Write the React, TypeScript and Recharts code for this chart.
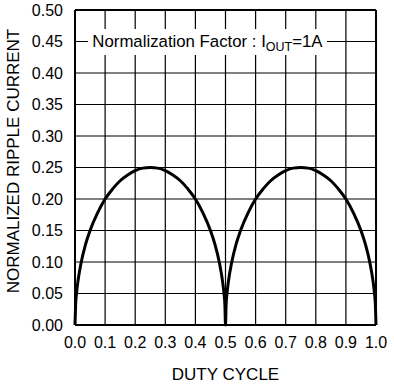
import React from 'react';
import {
  LineChart, Line, XAxis, YAxis, CartesianGrid, ReferenceArea, ReferenceLine, Label,
} from 'recharts';

const dutyCycle = [
  0, 0.002, 0.005, 0.01, 0.02, 0.035, 0.05, 0.075, 0.1, 0.125, 0.15, 0.175, 0.2, 0.225, 0.25,
  0.275, 0.3, 0.325, 0.35, 0.375, 0.4, 0.425, 0.45, 0.465, 0.48, 0.49, 0.495, 0.498, 0.5,
  0.502, 0.505, 0.51, 0.52, 0.535, 0.55, 0.575, 0.6, 0.625, 0.65, 0.675, 0.7, 0.725, 0.75,
  0.775, 0.8, 0.825, 0.85, 0.875, 0.9, 0.925, 0.95, 0.965, 0.98, 0.99, 0.995, 0.998, 1.0,
];
const rippleCurrent = [
  0, 0.032, 0.05, 0.07, 0.098, 0.128, 0.15, 0.178, 0.2, 0.216, 0.229, 0.238, 0.245, 0.249, 0.25,
  0.249, 0.245, 0.238, 0.229, 0.216, 0.2, 0.178, 0.15, 0.128, 0.098, 0.07, 0.05, 0.032, 0,
  0.032, 0.05, 0.07, 0.098, 0.128, 0.15, 0.178, 0.2, 0.216, 0.229, 0.238, 0.245, 0.249, 0.25,
  0.249, 0.245, 0.238, 0.229, 0.216, 0.2, 0.178, 0.15, 0.128, 0.098, 0.07, 0.05, 0.032, 0,
];
const xTicks = [0, 0.1, 0.2, 0.3, 0.4, 0.5, 0.6, 0.7, 0.8, 0.9, 1.0];
const yTicks = [0, 0.05, 0.1, 0.15, 0.2, 0.25, 0.3, 0.35, 0.4, 0.45, 0.5];

const data = dutyCycle.map((d, i) => ({ d, r: rippleCurrent[i] }));

const font = '"Liberation Sans", Arial, sans-serif';

const NoteLabel = (props: any) => {
  const vb = props.viewBox;
  if (!vb) return null;
  const cx = vb.x + vb.width / 2;
  const cy = vb.y + vb.height / 2;
  return (
    <text x={cx} y={cy + 5} textAnchor="middle" fontSize={16.8} fontFamily={font} fill="#000">
      Normalization Factor : I
      <tspan dy={4} fontSize={12.5}>OUT</tspan>
      <tspan dy={-4}>=1A</tspan>
    </text>
  );
};

const YLabel = () => (
  <text
    x={13}
    y={161}
    transform="rotate(-90, 13, 161)"
    textAnchor="middle"
    dominantBaseline="central"
    fontSize={17}
    fontFamily={font}
    fill="#000"
  >
    NORMALIZED RIPPLE CURRENT
  </text>
);

export default function App() {
  return (
    <div style={{ position: 'absolute', left: 0, top: 0, background: '#fff' }}>
      <LineChart width={394} height={385} data={data} margin={{ top: 10, right: 18, left: 0, bottom: 0 }}>
        <CartesianGrid stroke="#000" strokeWidth={1.2} />
        <XAxis
          dataKey="d"
          type="number"
          domain={[0, 1]}
          ticks={xTicks}
          tickFormatter={(v: number) => v.toFixed(1)}
          height={60}
          tickLine={false}
          tickSize={0}
          tickMargin={12}
          axisLine={{ stroke: '#000', strokeWidth: 2 }}
          tick={{ fill: '#000', fontSize: 16, fontFamily: font }}
          interval={0}
        >
          <Label value="DUTY CYCLE" position="insideBottom" offset={5} fill="#000" fontSize={17} fontFamily={font} />
        </XAxis>
        <YAxis
          type="number"
          domain={[0, 0.5]}
          ticks={yTicks}
          tickFormatter={(v: number) => v.toFixed(2)}
          width={75}
          tickLine={false}
          tickSize={0}
          tickMargin={12}
          axisLine={{ stroke: '#000', strokeWidth: 2 }}
          tick={{ fill: '#000', fontSize: 16, fontFamily: font }}
          interval={0}
        >
          <Label content={<YLabel />} />
        </YAxis>
        <ReferenceLine y={0.5} stroke="#000" strokeWidth={2} />
        <ReferenceLine x={1} stroke="#000" strokeWidth={2} />
        <ReferenceArea
          x1={0.043}
          x2={0.837}
          y1={0.4286}
          y2={0.47}
          fill="#fff"
          fillOpacity={1}
          stroke="none"
          label={<NoteLabel />}
        />
        <Line
          type="monotone"
          dataKey="r"
          stroke="#000"
          strokeWidth={3}
          dot={false}
          isAnimationActive={false}
        />
      </LineChart>
    </div>
  );
}
